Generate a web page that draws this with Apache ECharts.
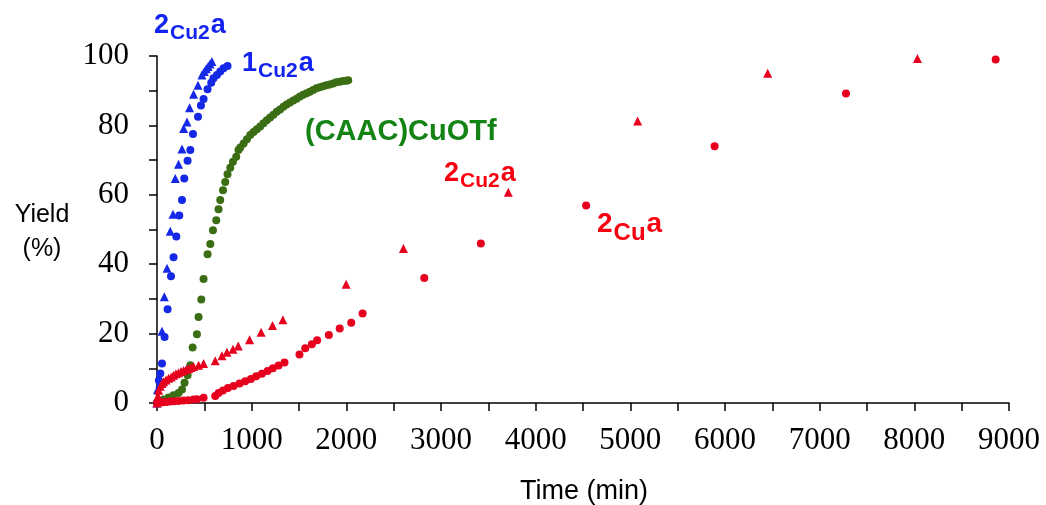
<!DOCTYPE html>
<html>
<head>
<meta charset="utf-8">
<script src="https://cdn.jsdelivr.net/npm/echarts@6/dist/echarts.min.js"></script>
<style>html,body{margin:0;padding:0;background:#fff;}#c{width:1046px;height:505px;}</style>
</head>
<body>
<div id="c"></div>
<script>
// ---- data (time in min, yield in %) ----
const blueTriangles = [[0,0],[6,3.9],[30,5.6],[53,20.7],[77,30.6],[106,38.8],[140,49.5],[169,54.4],[193,64.7],[228,68.8],[264,73.2],[281,79.1],[317,81],[344,85.1],[386,89],[433,91.6],[475,94.5],[500,95.5],[520,96.3],[540,97],[560,97.7],[580,98.4]];
const blueCircles = [[0,0],[20,6.5],[35,8.5],[53,11.4],[80,19],[112,27],[148,36.5],[175,42],[204,48],[235,54],[264,58.5],[288,64.7],[323,69.8],[352,72.9],[380,77.5],[433,82.5],[464,85.7],[492,87.6],[534,90.4],[573,92.3],[597,93.6],[633,94.5],[668,95.5],[703,96.5],[745,97.1]];
const greenCircles = [[0,0],[17,0.5],[70,1],[122,1.6],[175,2.2],[228,2.9],[264,3.9],[291,5.8],[323,8],[352,10.9],[376,16],[422,19.8],[439,24.8],[468,29.8],[492,35.7],[534,42.9],[563,45.8],[591,49.8],[626,52.7],[650,55.8],[668,58.5],[697,61.3],[721,63.7],[745,65.9],[774,67.8],[802,69.5],[837,71],[861,72.9],[880,73.6],[915,74.8],[950,76.0],[985,77.2],[1020,78.1],[1055,78.9],[1090,79.7],[1125,80.6],[1160,81.5],[1195,82.3],[1230,83.1],[1265,83.9],[1300,84.6],[1335,85.4],[1370,86.0],[1405,86.6],[1440,87.2],[1475,87.7],[1510,88.3],[1545,88.8],[1580,89.3],[1615,89.7],[1650,90.2],[1685,90.7],[1720,91.0],[1755,91.3],[1790,91.6],[1825,91.8],[1860,92.1],[1895,92.4],[1930,92.6],[1965,92.8],[2000,92.9],[2020,93.0]];
const redTriangles = [[0,0],[10,2],[17,3.7],[35,4.8],[52,5.6],[70,6.1],[95,6.6],[122,7.1],[150,7.5],[175,8],[200,8.4],[228,8.7],[255,9.1],[281,9.4],[310,9.7],[334,9.9],[360,10.2],[386,10.5],[439,10.9],[492,11.4],[615,12.2],[686,13.6],[739,14.6],[802,15.5],[858,16.4],[978,18.2],[1100,20.4],[1220,22.3],[1330,24],[1998,34.2],[2603,44.5],[3711,60.7],[5077,81.3],[6451,95.0],[8033,99.3]];
const redCircles = [[0,0],[30,0.1],[60,0.2],[100,0.3],[140,0.4],[180,0.5],[230,0.6],[281,0.7],[330,0.8],[386,1.0],[422,1.1],[492,1.5],[615,2.0],[651,2.9],[697,3.6],[749,4.3],[809,4.9],[872,5.6],[932,6.3],[992,6.9],[1048,7.7],[1108,8.4],[1168,9.2],[1224,10.0],[1284,10.8],[1347,11.7],[1505,14.0],[1566,15.8],[1636,16.9],[1692,18.1],[1815,19.6],[1930,21.5],[2052,23.1],[2172,25.8],[2823,36.0],[3421,46.0],[4533,56.9],[5890,74.0],[7278,89.2],[8859,99.0]];
const xTicks = {min: 0, max: 9000, step: 1000};
const yTicks = {min: 0, max: 100, step: 20};

const BLUE = '#1428e6', GREEN = '#3b6e14', RED = '#e6001e';
const BLUE_T = '#1424f0', GREEN_T = '#138313', RED_T = '#f80010';

function rich(color, m, s, pad) {
  return {
    m: {fontSize: m, fontWeight: 'bold', fontFamily: 'Liberation Sans', color: color, verticalAlign: 'top'},
    s: {fontSize: s, fontWeight: 'bold', fontFamily: 'Liberation Sans', color: color, verticalAlign: 'top', padding: [pad, 1, 0, 1]}
  };
}
function label(x, y, text, color, m, s, pad) {
  return {type: 'text', left: x, top: y, z: 100,
    style: {text: text, rich: rich(color, m, s, pad), fill: color, font: 'bold ' + m + 'px "Liberation Sans"'}};
}

const chart = echarts.init(document.getElementById('c'), null, {renderer: 'canvas'});
chart.setOption({
  animation: false,
  backgroundColor: '#fff',
  grid: {left: 157, right: 37, top: 56, bottom: 102, containLabel: false},
  xAxis: {
    type: 'value', min: xTicks.min, max: xTicks.max, interval: xTicks.step,
    axisLine: {show: true, lineStyle: {color: '#000', width: 1.5}},
    axisTick: {show: true, length: 8, lineStyle: {color: '#000', width: 1.5}},
    minorTick: {show: true, splitNumber: 2, length: 8, lineStyle: {color: '#000', width: 1.5}},
    splitLine: {show: false},
    axisLabel: {fontFamily: 'Liberation Serif', fontSize: 31, color: '#000', margin: 22, formatter: v => String(v)}
  },
  yAxis: {
    type: 'value', min: yTicks.min, max: yTicks.max, interval: yTicks.step,
    axisLine: {show: true, lineStyle: {color: '#000', width: 1.5}},
    axisTick: {show: true, length: 8, lineStyle: {color: '#000', width: 1.5}},
    minorTick: {show: true, splitNumber: 2, length: 8, lineStyle: {color: '#000', width: 1.5}},
    splitLine: {show: false},
    axisLabel: {fontFamily: 'Liberation Serif', fontSize: 31, color: '#000', margin: 28, formatter: v => String(v)}
  },
  series: [
    {type: 'scatter', name: '(CAAC)CuOTf', data: greenCircles, symbol: 'circle', symbolSize: 8, itemStyle: {color: GREEN, opacity: 1}},
    {type: 'scatter', name: '1Cu2a', data: blueCircles, symbol: 'circle', symbolSize: 8, itemStyle: {color: BLUE, opacity: 1}},
    {type: 'scatter', name: '2Cu2a (Cu2)', data: blueTriangles, symbol: 'triangle', symbolSize: 9, itemStyle: {color: BLUE, opacity: 1}},
    {type: 'scatter', name: '2Cua', data: redCircles, symbol: 'circle', symbolSize: 8, itemStyle: {color: RED, opacity: 1}},
    {type: 'scatter', name: '2Cu2a', data: redTriangles, symbol: 'triangle', symbolSize: 9, itemStyle: {color: RED, opacity: 1}}
  ],
  graphic: [
    label(154, 12, '{m|2}{s|Cu2}{m|a}', BLUE_T, 27, 21, 11),
    label(242, 50, '{m|1}{s|Cu2}{m|a}', BLUE_T, 27, 21, 11),
    {type: 'text', left: 305, top: 117, z: 100, style: {text: '(CAAC)CuOTf', fill: GREEN_T, font: 'bold 29px "Liberation Sans"'}},
    label(444, 160, '{m|2}{s|Cu2}{m|a}', RED_T, 27, 21, 11),
    label(597, 210, '{m|2}{s|Cu}{m|a}', RED_T, 28, 24, 11),
    {type: 'text', z: 100, style: {x: 42, y: 198, text: 'Yield\n(%)', fill: '#000', font: '25px "Liberation Sans"', align: 'center', verticalAlign: 'top', lineHeight: 34}},
    {type: 'text', z: 100, style: {x: 584, y: 478, text: 'Time (min)', fill: '#000', font: '27px "Liberation Sans"', align: 'center', verticalAlign: 'top'}}
  ]
});
</script>
</body>
</html>
